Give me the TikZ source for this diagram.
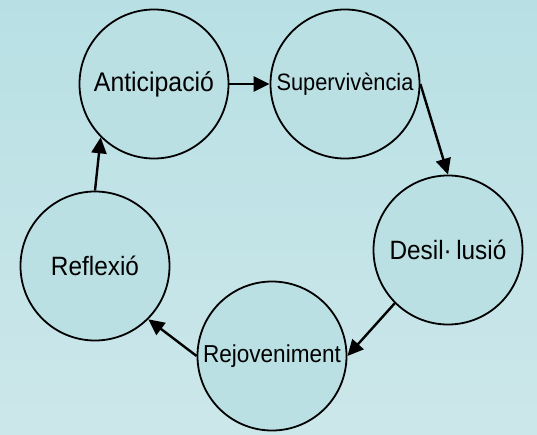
\documentclass[tikz,border=0pt]{standalone}
\usepackage{fontspec}
\setmainfont{Liberation Sans}
\newfontfamily\stagefont[FakeStretch=0.92]{Liberation Sans}
\usetikzlibrary{arrows.meta}

\definecolor{bgtop}{RGB}{184,224,228}
\definecolor{bgbottom}{RGB}{204,231,234}
\definecolor{stagefill}{RGB}{186,224,228}

\tikzset{
  stage/.style={draw, circle, line width=1.8pt, fill=stagefill,
    minimum size=149pt, inner sep=0pt,
    font=\stagefont\fontsize{26.5}{30}\selectfont},
  textsize/.style={font=\stagefont\fontsize{#1}{#1}\selectfont},
  flow/.style={-{Triangle[length=16pt,width=15pt]}, line width=2.4pt}
}

\begin{document}
\begin{tikzpicture}[x=1pt, y=-1pt]

  % --- Background ---
  \shade[top color=bgtop, bottom color=bgbottom] (0,0) rectangle (537,434);
  \useasboundingbox (0,0) rectangle (537,434);

  % --- Define nodes ---
  \node[stage, textsize=27] (ant) at (154,84) {Anticipació};
  \node[stage, textsize=23.7] (sup) at (345,84) {Supervivència};
  \node[stage] (des) at (448,250) {Desil·\,lusió};
  \node[stage, textsize=24.5] (rej) at (272,356) {Rejoveniment};
  \node[stage] (ref) at (95,266) {Reflexió};

  % --- Connect using anchors ---
  \draw[flow] (ant.east) -- (sup.west);
  \draw[flow] (sup.east) -- (des.north);
  \draw[flow] (des.south west) -- (rej.east);
  \draw[flow] (rej.west) -- (ref.south east);
  \draw[flow] (ref.north) -- (ant.south west);

\end{tikzpicture}
\end{document}
